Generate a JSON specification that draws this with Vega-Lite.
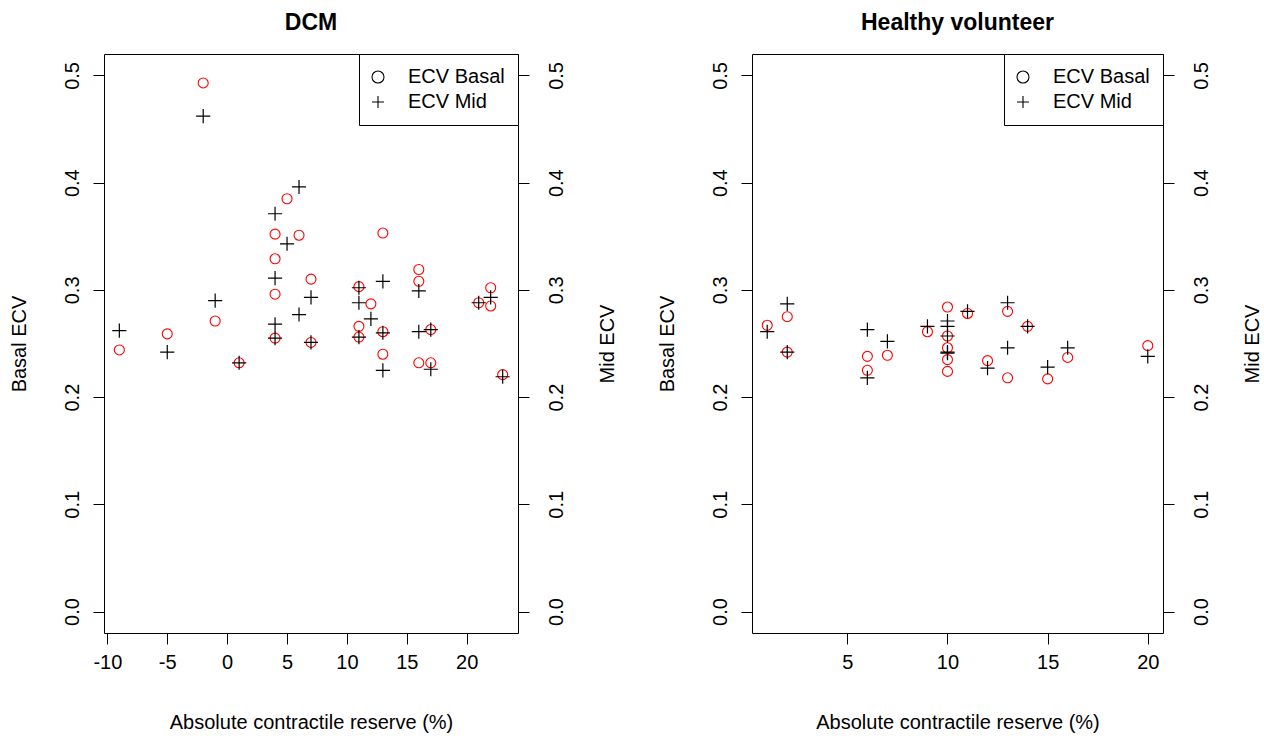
{
  "$schema": "https://vega.github.io/schema/vega-lite/v6.json",
  "background": "white",
  "padding": {"left": 8, "top": 11, "right": 4, "bottom": 4},
  "spacing": 38,
  "config": {
    "font": "Liberation Sans",
    "view": {"stroke": "black", "strokeWidth": 1},
    "axis": {
      "grid": false, "domain": false, "tickColor": "black", "tickSize": 11, "tickWidth": 1,
      "labelFontSize": 20, "titleFontSize": 20, "labelColor": "black", "titleColor": "black",
      "titleFontWeight": "normal", "labelFont": "Liberation Sans", "titleFont": "Liberation Sans"
    },
    "axisX": {"labelPadding": 8, "titlePadding": 40, "labelFlush": false},
    "axisLeft": {"labelAngle": -90, "labelAlign": "center", "labelBaseline": "alphabetic", "labelPadding": 15, "titlePadding": 33},
    "axisRight": {"labelAngle": -90, "labelAlign": "center", "labelBaseline": "top", "labelPadding": 17, "titleAngle": 270, "titleBaseline": "top", "titlePadding": 31},
    "title": {"fontSize": 23, "fontWeight": "bold", "font": "Liberation Sans", "color": "black", "anchor": "middle"},
    "legend": {
      "orient": "top-right", "offset": 0, "strokeColor": "black", "fillColor": "white",
      "padding": 13, "labelFontSize": 20, "labelFont": "Liberation Sans", "labelColor": "black",
      "symbolSize": 144, "symbolStrokeWidth": 1.1, "rowPadding": 5, "labelOffset": 20, "symbolOffset": -4,
      "symbolStrokeColor": "black", "symbolFillColor": "transparent", "cornerRadius": 0
    }
  },
  "datasets": {
    "d": [
      {"panel": "DCM", "series": "ECV Basal", "reserve": -9, "ecv": 0.244},
      {"panel": "DCM", "series": "ECV Basal", "reserve": -5, "ecv": 0.259},
      {"panel": "DCM", "series": "ECV Basal", "reserve": -2, "ecv": 0.493},
      {"panel": "DCM", "series": "ECV Basal", "reserve": -1, "ecv": 0.271},
      {"panel": "DCM", "series": "ECV Basal", "reserve": 1, "ecv": 0.232},
      {"panel": "DCM", "series": "ECV Basal", "reserve": 4, "ecv": 0.352},
      {"panel": "DCM", "series": "ECV Basal", "reserve": 4, "ecv": 0.329},
      {"panel": "DCM", "series": "ECV Basal", "reserve": 4, "ecv": 0.296},
      {"panel": "DCM", "series": "ECV Basal", "reserve": 4, "ecv": 0.255},
      {"panel": "DCM", "series": "ECV Basal", "reserve": 5, "ecv": 0.385},
      {"panel": "DCM", "series": "ECV Basal", "reserve": 6, "ecv": 0.351},
      {"panel": "DCM", "series": "ECV Basal", "reserve": 7, "ecv": 0.310},
      {"panel": "DCM", "series": "ECV Basal", "reserve": 7, "ecv": 0.251},
      {"panel": "DCM", "series": "ECV Basal", "reserve": 11, "ecv": 0.303},
      {"panel": "DCM", "series": "ECV Basal", "reserve": 11, "ecv": 0.266},
      {"panel": "DCM", "series": "ECV Basal", "reserve": 11, "ecv": 0.256},
      {"panel": "DCM", "series": "ECV Basal", "reserve": 12, "ecv": 0.287},
      {"panel": "DCM", "series": "ECV Basal", "reserve": 13, "ecv": 0.353},
      {"panel": "DCM", "series": "ECV Basal", "reserve": 13, "ecv": 0.261},
      {"panel": "DCM", "series": "ECV Basal", "reserve": 13, "ecv": 0.240},
      {"panel": "DCM", "series": "ECV Basal", "reserve": 16, "ecv": 0.319},
      {"panel": "DCM", "series": "ECV Basal", "reserve": 16, "ecv": 0.308},
      {"panel": "DCM", "series": "ECV Basal", "reserve": 16, "ecv": 0.232},
      {"panel": "DCM", "series": "ECV Basal", "reserve": 17, "ecv": 0.263},
      {"panel": "DCM", "series": "ECV Basal", "reserve": 17, "ecv": 0.232},
      {"panel": "DCM", "series": "ECV Basal", "reserve": 21, "ecv": 0.288},
      {"panel": "DCM", "series": "ECV Basal", "reserve": 22, "ecv": 0.302},
      {"panel": "DCM", "series": "ECV Basal", "reserve": 22, "ecv": 0.285},
      {"panel": "DCM", "series": "ECV Basal", "reserve": 23, "ecv": 0.221},
      {"panel": "DCM", "series": "ECV Mid", "reserve": -9, "ecv": 0.262},
      {"panel": "DCM", "series": "ECV Mid", "reserve": -5, "ecv": 0.242},
      {"panel": "DCM", "series": "ECV Mid", "reserve": -2, "ecv": 0.462},
      {"panel": "DCM", "series": "ECV Mid", "reserve": -1, "ecv": 0.290},
      {"panel": "DCM", "series": "ECV Mid", "reserve": 1, "ecv": 0.232},
      {"panel": "DCM", "series": "ECV Mid", "reserve": 4, "ecv": 0.371},
      {"panel": "DCM", "series": "ECV Mid", "reserve": 4, "ecv": 0.311},
      {"panel": "DCM", "series": "ECV Mid", "reserve": 4, "ecv": 0.268},
      {"panel": "DCM", "series": "ECV Mid", "reserve": 4, "ecv": 0.255},
      {"panel": "DCM", "series": "ECV Mid", "reserve": 5, "ecv": 0.343},
      {"panel": "DCM", "series": "ECV Mid", "reserve": 6, "ecv": 0.396},
      {"panel": "DCM", "series": "ECV Mid", "reserve": 6, "ecv": 0.277},
      {"panel": "DCM", "series": "ECV Mid", "reserve": 7, "ecv": 0.293},
      {"panel": "DCM", "series": "ECV Mid", "reserve": 7, "ecv": 0.251},
      {"panel": "DCM", "series": "ECV Mid", "reserve": 11, "ecv": 0.302},
      {"panel": "DCM", "series": "ECV Mid", "reserve": 11, "ecv": 0.288},
      {"panel": "DCM", "series": "ECV Mid", "reserve": 11, "ecv": 0.256},
      {"panel": "DCM", "series": "ECV Mid", "reserve": 12, "ecv": 0.273},
      {"panel": "DCM", "series": "ECV Mid", "reserve": 13, "ecv": 0.308},
      {"panel": "DCM", "series": "ECV Mid", "reserve": 13, "ecv": 0.260},
      {"panel": "DCM", "series": "ECV Mid", "reserve": 13, "ecv": 0.225},
      {"panel": "DCM", "series": "ECV Mid", "reserve": 16, "ecv": 0.299},
      {"panel": "DCM", "series": "ECV Mid", "reserve": 16, "ecv": 0.261},
      {"panel": "DCM", "series": "ECV Mid", "reserve": 17, "ecv": 0.263},
      {"panel": "DCM", "series": "ECV Mid", "reserve": 17, "ecv": 0.226},
      {"panel": "DCM", "series": "ECV Mid", "reserve": 21, "ecv": 0.288},
      {"panel": "DCM", "series": "ECV Mid", "reserve": 22, "ecv": 0.293},
      {"panel": "DCM", "series": "ECV Mid", "reserve": 23, "ecv": 0.219},
      {"panel": "HV", "series": "ECV Basal", "reserve": 1, "ecv": 0.267},
      {"panel": "HV", "series": "ECV Basal", "reserve": 2, "ecv": 0.275},
      {"panel": "HV", "series": "ECV Basal", "reserve": 2, "ecv": 0.242},
      {"panel": "HV", "series": "ECV Basal", "reserve": 6, "ecv": 0.238},
      {"panel": "HV", "series": "ECV Basal", "reserve": 6, "ecv": 0.225},
      {"panel": "HV", "series": "ECV Basal", "reserve": 7, "ecv": 0.239},
      {"panel": "HV", "series": "ECV Basal", "reserve": 9, "ecv": 0.261},
      {"panel": "HV", "series": "ECV Basal", "reserve": 10, "ecv": 0.284},
      {"panel": "HV", "series": "ECV Basal", "reserve": 10, "ecv": 0.257},
      {"panel": "HV", "series": "ECV Basal", "reserve": 10, "ecv": 0.246},
      {"panel": "HV", "series": "ECV Basal", "reserve": 10, "ecv": 0.235},
      {"panel": "HV", "series": "ECV Basal", "reserve": 10, "ecv": 0.224},
      {"panel": "HV", "series": "ECV Basal", "reserve": 11, "ecv": 0.278},
      {"panel": "HV", "series": "ECV Basal", "reserve": 12, "ecv": 0.234},
      {"panel": "HV", "series": "ECV Basal", "reserve": 13, "ecv": 0.280},
      {"panel": "HV", "series": "ECV Basal", "reserve": 13, "ecv": 0.218},
      {"panel": "HV", "series": "ECV Basal", "reserve": 14, "ecv": 0.266},
      {"panel": "HV", "series": "ECV Basal", "reserve": 15, "ecv": 0.217},
      {"panel": "HV", "series": "ECV Basal", "reserve": 16, "ecv": 0.237},
      {"panel": "HV", "series": "ECV Basal", "reserve": 20, "ecv": 0.248},
      {"panel": "HV", "series": "ECV Mid", "reserve": 1, "ecv": 0.261},
      {"panel": "HV", "series": "ECV Mid", "reserve": 2, "ecv": 0.287},
      {"panel": "HV", "series": "ECV Mid", "reserve": 2, "ecv": 0.242},
      {"panel": "HV", "series": "ECV Mid", "reserve": 6, "ecv": 0.263},
      {"panel": "HV", "series": "ECV Mid", "reserve": 6, "ecv": 0.218},
      {"panel": "HV", "series": "ECV Mid", "reserve": 7, "ecv": 0.252},
      {"panel": "HV", "series": "ECV Mid", "reserve": 9, "ecv": 0.266},
      {"panel": "HV", "series": "ECV Mid", "reserve": 10, "ecv": 0.271},
      {"panel": "HV", "series": "ECV Mid", "reserve": 10, "ecv": 0.266},
      {"panel": "HV", "series": "ECV Mid", "reserve": 10, "ecv": 0.257},
      {"panel": "HV", "series": "ECV Mid", "reserve": 10, "ecv": 0.242},
      {"panel": "HV", "series": "ECV Mid", "reserve": 10, "ecv": 0.241},
      {"panel": "HV", "series": "ECV Mid", "reserve": 11, "ecv": 0.280},
      {"panel": "HV", "series": "ECV Mid", "reserve": 12, "ecv": 0.227},
      {"panel": "HV", "series": "ECV Mid", "reserve": 13, "ecv": 0.288},
      {"panel": "HV", "series": "ECV Mid", "reserve": 13, "ecv": 0.246},
      {"panel": "HV", "series": "ECV Mid", "reserve": 14, "ecv": 0.266},
      {"panel": "HV", "series": "ECV Mid", "reserve": 15, "ecv": 0.228},
      {"panel": "HV", "series": "ECV Mid", "reserve": 16, "ecv": 0.246},
      {"panel": "HV", "series": "ECV Mid", "reserve": 20, "ecv": 0.238}
    ]
  },
  "resolve": {"scale": {"shape": "independent"}, "legend": {"shape": "independent"}},
  "hconcat": [
    {
      "title": {"text": "DCM", "offset": 19},
      "width": 414, "height": 579,
      "data": {"name": "d"},
      "transform": [{"filter": "datum.panel === 'DCM'"}],
      "layer": [
        {
          "transform": [{"filter": "datum.series === 'ECV Basal'"}],
          "mark": {"type": "point", "filled": false, "strokeWidth": 1.1, "color": "#FF0000", "size": 100, "opacity": 1},
          "encoding": {
            "x": {"field": "reserve", "type": "quantitative", "scale": {"domain": [-10.28, 24.28], "nice": false, "zero": false},
              "axis": {"values": [-10, -5, 0, 5, 10, 15, 20], "labelExpr": "toString(datum.value)", "title": "Absolute contractile reserve (%)"}},
            "y": {"field": "ecv", "type": "quantitative", "scale": {"domain": [-0.02, 0.52], "nice": false, "zero": false},
              "axis": {"orient": "left", "values": [0, 0.1, 0.2, 0.3, 0.4, 0.5], "format": ".1f", "title": "Basal ECV"}},
            "shape": {"field": "series", "type": "nominal", "scale": {"domain": ["ECV Basal", "ECV Mid"], "range": ["circle", "M-1,0H1M0,-1V1"]},
              "legend": {"title": null, "encode": {"symbols": {"update": {"stroke": {"value": "black"}, "fill": {"value": "transparent"}, "size": {"signal": "datum.value === 'ECV Basal' ? 90 : 200"}}}}}}
          }
        },
        {
          "transform": [{"filter": "datum.series === 'ECV Mid'"}],
          "mark": {"type": "point", "filled": false, "strokeWidth": 1.2, "color": "#000000", "size": 200, "opacity": 1},
          "encoding": {
            "x": {"field": "reserve", "type": "quantitative", "scale": {"domain": [-10.28, 24.28], "nice": false, "zero": false},
              "axis": {"values": [-10, -5, 0, 5, 10, 15, 20], "labelExpr": "toString(datum.value)", "title": "Absolute contractile reserve (%)"}},
            "y": {"field": "ecv", "type": "quantitative", "scale": {"domain": [-0.02, 0.52], "nice": false, "zero": false},
              "axis": {"orient": "right", "values": [0, 0.1, 0.2, 0.3, 0.4, 0.5], "format": ".1f", "title": "Mid ECV"}},
            "shape": {"field": "series", "type": "nominal", "scale": {"domain": ["ECV Basal", "ECV Mid"], "range": ["circle", "M-1,0H1M0,-1V1"]},
              "legend": {"title": null, "encode": {"symbols": {"update": {"stroke": {"value": "black"}, "fill": {"value": "transparent"}, "size": {"signal": "datum.value === 'ECV Basal' ? 90 : 200"}}}}}}
          }
        }
      ],
      "resolve": {"scale": {"y": "independent"}}
    },
    {
      "title": {"text": "Healthy volunteer", "offset": 19},
      "width": 411, "height": 579,
      "data": {"name": "d"},
      "transform": [{"filter": "datum.panel === 'HV'"}],
      "layer": [
        {
          "transform": [{"filter": "datum.series === 'ECV Basal'"}],
          "mark": {"type": "point", "filled": false, "strokeWidth": 1.1, "color": "#FF0000", "size": 100, "opacity": 1},
          "encoding": {
            "x": {"field": "reserve", "type": "quantitative", "scale": {"domain": [0.24, 20.76], "nice": false, "zero": false},
              "axis": {"values": [5, 10, 15, 20], "labelExpr": "toString(datum.value)", "title": "Absolute contractile reserve (%)"}},
            "y": {"field": "ecv", "type": "quantitative", "scale": {"domain": [-0.02, 0.52], "nice": false, "zero": false},
              "axis": {"orient": "left", "values": [0, 0.1, 0.2, 0.3, 0.4, 0.5], "format": ".1f", "title": "Basal ECV"}},
            "shape": {"field": "series", "type": "nominal", "scale": {"domain": ["ECV Basal", "ECV Mid"], "range": ["circle", "M-1,0H1M0,-1V1"]},
              "legend": {"title": null, "encode": {"symbols": {"update": {"stroke": {"value": "black"}, "fill": {"value": "transparent"}, "size": {"signal": "datum.value === 'ECV Basal' ? 90 : 200"}}}}}}
          }
        },
        {
          "transform": [{"filter": "datum.series === 'ECV Mid'"}],
          "mark": {"type": "point", "filled": false, "strokeWidth": 1.2, "color": "#000000", "size": 200, "opacity": 1},
          "encoding": {
            "x": {"field": "reserve", "type": "quantitative", "scale": {"domain": [0.24, 20.76], "nice": false, "zero": false},
              "axis": {"values": [5, 10, 15, 20], "labelExpr": "toString(datum.value)", "title": "Absolute contractile reserve (%)"}},
            "y": {"field": "ecv", "type": "quantitative", "scale": {"domain": [-0.02, 0.52], "nice": false, "zero": false},
              "axis": {"orient": "right", "values": [0, 0.1, 0.2, 0.3, 0.4, 0.5], "format": ".1f", "title": "Mid ECV"}},
            "shape": {"field": "series", "type": "nominal", "scale": {"domain": ["ECV Basal", "ECV Mid"], "range": ["circle", "M-1,0H1M0,-1V1"]},
              "legend": {"title": null, "encode": {"symbols": {"update": {"stroke": {"value": "black"}, "fill": {"value": "transparent"}, "size": {"signal": "datum.value === 'ECV Basal' ? 90 : 200"}}}}}}
          }
        }
      ],
      "resolve": {"scale": {"y": "independent"}}
    }
  ]
}
